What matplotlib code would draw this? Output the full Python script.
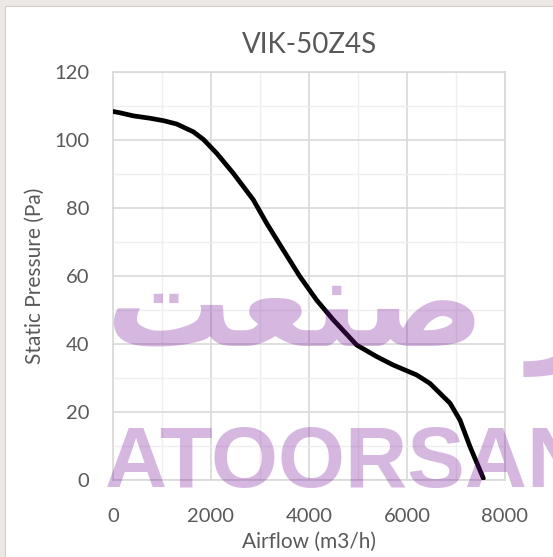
import matplotlib
matplotlib.use("Agg")
import matplotlib.pyplot as plt
from matplotlib.patches import Rectangle

# fan curve
airflow = [0, 143, 415, 755, 1027, 1300, 1640, 1843, 2116, 2456, 2864, 3136,
           3476, 3816, 4156, 4496, 4973, 5381, 5721, 6197, 6469, 6878, 7082,
           7286, 7558]
pressure = [108.4, 108.0, 107.1, 106.4, 105.7, 104.7, 102.4, 100.2, 96.1, 90.2,
            82.4, 75.5, 67.6, 59.8, 52.9, 47.1, 39.7, 36.3, 33.8, 30.9, 28.4,
            22.6, 17.6, 9.8, 0.5]

title = "VIK-50Z4S"
xlabel = "Airflow (m3/h)"
ylabel = "Static Pressure (Pa)"
xticks = [0, 2000, 4000, 6000, 8000]
yticks = [0, 20, 40, 60, 80, 100, 120]

W, H = 553, 557
txt = "#595959"

plt.rcParams['font.family'] = ['Lato', 'DejaVu Sans']

fig = plt.figure(figsize=(W / 100, H / 100), dpi=100, facecolor="#ebe8e5")
fig.patches.append(Rectangle((5 / W, 0), 1, 1 - 6 / H, transform=fig.transFigure,
                             facecolor="white", edgecolor="#d0cdca", lw=0.8,
                             zorder=-5))

ax = fig.add_axes([113 / W, 1 - 480 / H, 392 / W, 408 / H])
ax.set_facecolor("none")
ax.plot(airflow, pressure, color="black", lw=3.4, solid_capstyle="round",
        solid_joinstyle="round", zorder=3)

ax.set_xlim(0, 8000)
ax.set_ylim(0, 120)
ax.set_xticks(xticks)
ax.set_yticks(yticks)
ax.set_xticks(range(1000, 8000, 2000), minor=True)
ax.set_yticks(range(10, 120, 20), minor=True)
ax.grid(which="major", color="#d9d9d9", lw=1.2)
ax.grid(which="minor", color="#efefef", lw=1.0)
ax.set_axisbelow(True)
for s in ax.spines.values():
    s.set_color("#d9d9d9")
    s.set_linewidth(1.2)
ax.tick_params(which="both", length=0, labelsize=14.5, labelcolor=txt)
ax.tick_params(axis="y", pad=17)
ax.tick_params(axis="x", pad=20)

ax.set_title(title, fontsize=20, color=txt, pad=14)
ax.set_xlabel(xlabel, fontsize=15, color=txt, labelpad=5)
ax.set_ylabel(ylabel, fontsize=15, color=txt, labelpad=7)

# watermark
wm = (120 / 255, 17 / 255, 155 / 255)
fig.text(105 / W, 1 - 487 / H, "ATOORSAN", family="Liberation Sans", weight="bold",
         fontsize=62, color=wm, alpha=0.3, va="baseline", ha="left", zorder=10)
fig.text(106 / W, 1 - 346 / H, "\ufe96\ufecc\ufee8\ufebb \ufead\ufeee\ufe97\ufe81",
         family="DejaVu Sans", weight="bold", fontsize=91, color=wm, alpha=0.3,
         va="baseline", ha="left", zorder=10)

fig.savefig("out.png", dpi=100)
